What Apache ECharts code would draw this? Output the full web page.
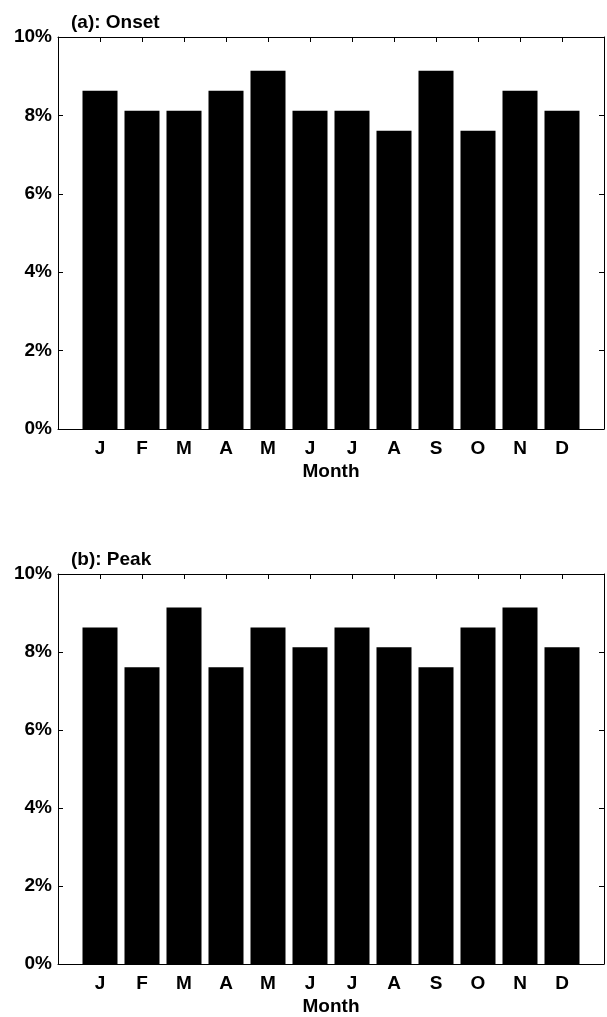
<!DOCTYPE html>
<html>
<head>
<meta charset="utf-8">
<script src="https://cdn.jsdelivr.net/npm/echarts@6/dist/echarts.min.js"></script>
<style>
  html, body { margin: 0; padding: 0; background: #fff; }
  #chart { width: 607px; height: 1017px; }
</style>
</head>
<body>
<div id="chart"></div>
<script>
// Month initials along the x axis
const months = ['J', 'F', 'M', 'A', 'M', 'J', 'J', 'A', 'S', 'O', 'N', 'D'];
// Share of events per month (%), onset month
const onsetPct = [8.63, 8.12, 8.12, 8.63, 9.14, 8.12, 8.12, 7.61, 9.14, 7.61, 8.63, 8.12];
// Share of events per month (%), peak month
const peakPct = [8.63, 7.61, 9.14, 7.61, 8.63, 8.12, 8.63, 8.12, 7.61, 8.63, 9.14, 8.12];
// Y tick labels
const yTicks = [0, 2, 4, 6, 8, 10];
const panelTitles = ['(a): Onset', '(b): Peak'];

const FONT = '"Liberation Sans", Arial, Helvetica, sans-serif';
const INK = '#000';

const grids = [
  { left: 58, top: 37, width: 548.5, height: 392 },
  { left: 58, top: 574, width: 548.5, height: 392 }
];

const lineStyle = { color: INK, width: 1 };

function xAxes(gi) {
  const common = {
    gridIndex: gi, type: 'value', min: 0, max: 13, interval: 1,
    axisLine: { show: true, onZero: false, lineStyle: lineStyle },
    axisTick: { show: true, inside: true, length: 5, lineStyle: lineStyle },
    splitLine: { show: false }
  };
  return [
    Object.assign({}, common, {
      position: 'bottom',
      name: 'Month', nameLocation: 'middle', nameGap: 33,
      nameTextStyle: { fontFamily: FONT, fontWeight: 'bold', fontSize: 19, color: INK },
      axisLabel: {
        margin: 10, fontFamily: FONT, fontWeight: 'bold', fontSize: 19, color: INK,
        formatter: v => (v >= 1 && v <= months.length) ? months[v - 1] : ''
      }
    }),
    Object.assign({}, common, {
      position: 'top',
      axisLabel: { show: false }
    })
  ];
}

function yAxes(gi) {
  const common = {
    gridIndex: gi, type: 'value',
    min: yTicks[0], max: yTicks[yTicks.length - 1], interval: yTicks[1] - yTicks[0],
    axisLine: { show: true, onZero: false, lineStyle: lineStyle },
    axisTick: { show: true, inside: true, length: 5, lineStyle: lineStyle },
    splitLine: { show: false }
  };
  return [
    Object.assign({}, common, {
      position: 'left',
      axisLabel: {
        margin: 6, fontFamily: FONT, fontWeight: 'bold', fontSize: 19, color: INK,
        formatter: '{value}%'
      }
    }),
    Object.assign({}, common, {
      position: 'right',
      axisLabel: { show: false }
    })
  ];
}

const xAxis = [].concat(xAxes(0), xAxes(1));
const yAxis = [].concat(yAxes(0), yAxes(1));

function barSeries(values, axisBase) {
  return {
    type: 'bar',
    xAxisIndex: axisBase, yAxisIndex: axisBase,
    data: values.map((v, i) => [i + 1, v]),
    barWidth: 35,
    itemStyle: { color: INK },
    silent: true,
    animation: false
  };
}

const option = {
  backgroundColor: '#fff',
  animation: false,
  title: panelTitles.map((t, i) => ({
    text: t,
    left: 66,
    top: grids[i].top - 29,
    textStyle: { fontFamily: FONT, fontWeight: 'bold', fontSize: 19, color: INK }
  })),
  grid: grids,
  xAxis: xAxis,
  yAxis: yAxis,
  series: [barSeries(onsetPct, 0), barSeries(peakPct, 2)]
};

const chart = echarts.init(document.getElementById('chart'), null, { renderer: 'canvas' });
chart.setOption(option);
</script>
</body>
</html>
